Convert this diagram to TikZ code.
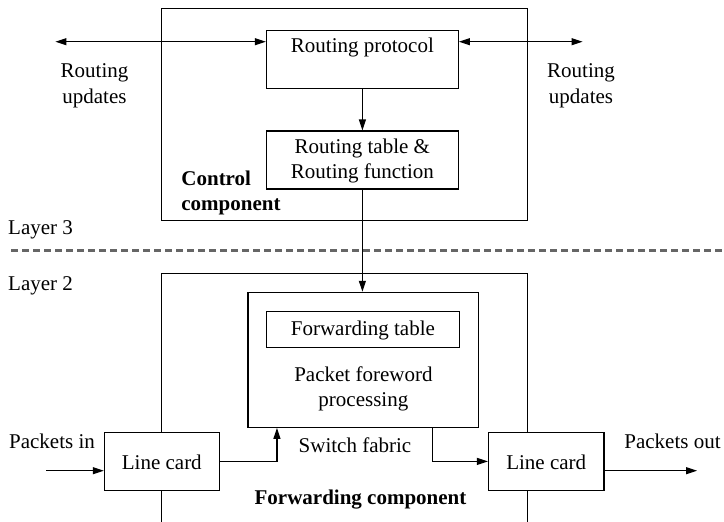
\documentclass[tikz,border=0pt]{standalone}
\usepackage{fontspec}
\setmainfont{Liberation Serif}
\usetikzlibrary{arrows.meta,calc}
\begin{document}
\begin{tikzpicture}[x=1pt,y=-1pt,
  every node/.style={font=\fontsize{21}{25.5}\selectfont},
  box/.style={draw,line width=1.1pt,fill=white,inner sep=0pt},
  txt/.style={inner sep=0pt,align=center},
  conn/.style={line width=1.1pt,-{Triangle[length=11pt,width=7pt]}},
  biconn/.style={line width=1.1pt,{Triangle[length=11pt,width=7pt]}-{Triangle[length=11pt,width=7pt]}},
  plain/.style={line width=1.1pt}]
\useasboundingbox (0,0) rectangle (724,522);
% control component
\node[box,minimum width=366pt,minimum height=212pt] (ctrl) at (344.6,114.5) {};
\node[box,minimum width=192pt,minimum height=57.6pt] (rp) at (362.4,59.5) {};
\node[txt] (rptxt) at (362.4,47) {Routing protocol};
\node[box,minimum width=192pt,minimum height=58pt] (rt) at (362.4,160) {};
\node[txt] (rttxt) at (362.4,161) {Routing table \&\\Routing function};
\node[txt,align=left,font=\fontsize{21}{25.5}\selectfont\bfseries] (ctrltxt) at (231,193) {Control\\component};
\node[txt] (ruL) at (94.5,86) {Routing\\updates};
\node[txt] (ruR) at (581,86) {Routing\\updates};
\coordinate (ruLend) at (55.4,41.7);
\coordinate (ruRend) at (582.6,41.7);
\draw[biconn] (ruLend) -- (ruLend -| rp.west);
\draw[biconn] (ruRend -| rp.east) -- (ruRend);
\draw[conn] (rp.south) -- (rt.north);
% layers
\node[txt,anchor=west] (l3) at (8,230) {Layer 3};
\node[txt,anchor=west] (l2) at (8,286) {Layer 2};
\coordinate (dashL) at (11,250.7);
\coordinate (dashR) at (724,250.7);
\draw[line width=2.6pt,color=black!60,dash pattern=on 7pt off 4pt] (dashL) -- (dashR);
% forwarding component
\coordinate (fwdBL) at (161.6,522);
\coordinate (fwdTL) at (161.6,273.3);
\coordinate (fwdTR) at (527.7,273.3);
\coordinate (fwdBR) at (527.7,522);
\draw[plain] (fwdBL) -- (fwdTL) -- (fwdTR) -- (fwdBR);
\node[box,minimum width=230.8pt,minimum height=135pt] (pfp) at (363.4,359.8) {};
\node[box,minimum width=193pt,minimum height=36pt] (ft) at (362.9,329.7) {};
\node[txt] (fttxt) at (362.9,330) {Forwarding table};
\node[txt] (pfptxt) at (363.4,389) {Packet foreword\\processing};
\draw[conn] (rt.south) -- (rt.south |- pfp.north);
\node[box,minimum width=115pt,minimum height=57.3pt] (lc1) at (161.8,461.4) {};
\node[txt] (lc1txt) at (161.8,462) {Line card};
\node[box,minimum width=115.5pt,minimum height=57.3pt] (lc2) at (546.2,461.4) {};
\node[txt] (lc2txt) at (546.2,462) {Line card};
\node[txt] (pin) at (52,441.7) {Packets in};
\node[txt] (pout) at (672.5,441) {Packets out};
\node[txt] (sf) at (355,445) {Switch fabric};
\node[txt,font=\fontsize{21}{25.5}\selectfont\bfseries] (fc) at (360.5,499.5) {Forwarding component};
\coordinate (pinstart) at (46,470.7);
\coordinate (poutend) at (697,470.7);
\draw[conn] (pinstart) -- (pinstart -| lc1.west);
\draw[conn] (lc2.east) -- (poutend -| lc2.east) -- (poutend);
\draw[conn] (lc1.east) -| ([xshift=29.5pt]pfp.south west);
\draw[conn] ([xshift=-47pt]pfp.south east) |- (lc2.west);
\end{tikzpicture}
\end{document}
